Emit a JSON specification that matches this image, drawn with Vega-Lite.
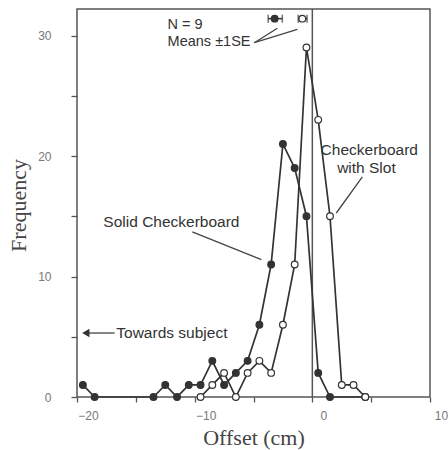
{
  "$schema": "https://vega.github.io/schema/vega-lite/v6.json",
  "width": 353,
  "height": 388,
  "autosize": {"type": "none"},
  "padding": {"left": 77, "top": 9, "right": 18, "bottom": 53},
  "background": "white",
  "config": {
    "view": {"stroke": "#555", "strokeWidth": 1.5},
    "axis": {
      "domain": false,
      "grid": false,
      "tickColor": "#555",
      "tickWidth": 1.3,
      "labelColor": "#777",
      "labelFont": "Liberation Sans",
      "labelFontSize": 12,
      "titleFont": "Liberation Serif",
      "titleFontSize": 22,
      "titleColor": "#444",
      "titleFontWeight": "normal"
    }
  },
  "datasets": {
    "freq": [
      {"series": "Solid", "offset": -19.5, "f": 1},
      {"series": "Solid", "offset": -18.5, "f": 0},
      {"series": "Solid", "offset": -13.5, "f": 0},
      {"series": "Solid", "offset": -12.5, "f": 1},
      {"series": "Solid", "offset": -11.5, "f": 0},
      {"series": "Solid", "offset": -10.5, "f": 1},
      {"series": "Solid", "offset": -9.5, "f": 1},
      {"series": "Solid", "offset": -8.5, "f": 3},
      {"series": "Solid", "offset": -7.5, "f": 1},
      {"series": "Solid", "offset": -6.5, "f": 2},
      {"series": "Solid", "offset": -5.5, "f": 3},
      {"series": "Solid", "offset": -4.5, "f": 6},
      {"series": "Solid", "offset": -3.5, "f": 11},
      {"series": "Solid", "offset": -2.5, "f": 21},
      {"series": "Solid", "offset": -1.5, "f": 19},
      {"series": "Solid", "offset": -0.5, "f": 15},
      {"series": "Solid", "offset": 0.5, "f": 2},
      {"series": "Solid", "offset": 1.5, "f": 0},
      {"series": "Solid", "offset": 4.5, "f": 0},
      {"series": "Slot", "offset": -9.5, "f": 0},
      {"series": "Slot", "offset": -8.5, "f": 1},
      {"series": "Slot", "offset": -7.5, "f": 2},
      {"series": "Slot", "offset": -6.5, "f": 0},
      {"series": "Slot", "offset": -5.5, "f": 2},
      {"series": "Slot", "offset": -4.5, "f": 3},
      {"series": "Slot", "offset": -3.5, "f": 2},
      {"series": "Slot", "offset": -2.5, "f": 6},
      {"series": "Slot", "offset": -1.5, "f": 11},
      {"series": "Slot", "offset": -0.5, "f": 29},
      {"series": "Slot", "offset": 0.5, "f": 23},
      {"series": "Slot", "offset": 1.5, "f": 15},
      {"series": "Slot", "offset": 2.5, "f": 1},
      {"series": "Slot", "offset": 3.5, "f": 1},
      {"series": "Slot", "offset": 4.5, "f": 0}
    ],
    "means": [
      {"series": "Solid", "m": -3.2, "lo": -3.75, "hi": -2.55, "y": 31.4},
      {"series": "Slot", "m": -0.85, "lo": -1.2, "hi": -0.45, "y": 31.4}
    ],
    "pointers": [
      {"x": -4.93, "y": 29.4, "x2": -2.97, "y2": 30.6},
      {"x": -4.93, "y": 29.4, "x2": -1.27, "y2": 30.5},
      {"x": -10.2, "y": 13.7, "x2": -4.33, "y2": 11.4},
      {"x": 4.25, "y": 18.26, "x2": 2.04, "y2": 15.27},
      {"x": -19.4, "y": 5.31, "x2": -16.8, "y2": 5.31}
    ],
    "smallText": [
      {"x": -12.3, "y": 30.9, "t": "N = 9"},
      {"x": -12.3, "y": 29.5, "t": "Means ±1SE"}
    ],
    "leftText": [
      {"x": -17.76, "y": 14.5, "t": "Solid Checkerboard"},
      {"x": -16.66, "y": 5.31, "t": "Towards subject"}
    ],
    "centerText": [
      {"x": 4.84, "y": 20.5, "t": "Checkerboard"},
      {"x": 4.6, "y": 19.0, "t": "with Slot"}
    ]
  },
  "layer": [
    {
      "data": {"values": [{"v": 0}]},
      "mark": {"type": "rule", "color": "#555", "strokeWidth": 1.5},
      "encoding": {
        "x": {"field": "v", "type": "quantitative", "scale": {"domain": [-20, 10], "nice": false, "zero": false},
          "axis": {"title": "Offset (cm)", "values": [-20, -15, -10, -5, 0, 5, 10], "labelExpr": "datum.value % 10 === 0 ? datum.label : ''", "tickSize": 5, "labelPadding": 8, "labelOffset": 11, "labelFlush": false, "labelBound": false, "titleY": 47, "titleBaseline": "alphabetic"}}
      }
    },
    {
      "data": {"name": "freq"},
      "mark": {"type": "line", "color": "#333", "strokeWidth": 1.7},
      "encoding": {
        "x": {"field": "offset", "type": "quantitative"},
        "y": {"field": "f", "type": "quantitative", "scale": {"domain": [0, 32.2], "nice": false},
          "axis": {"title": "Frequency", "values": [0, 5, 10, 15, 20, 25, 30], "labelExpr": "datum.value % 10 === 0 ? datum.label : ''", "tickSize": 6, "labelPadding": 20, "labelFlush": false, "titleX": -52, "titleY": 196, "titleAngle": -90, "titleBaseline": "alphabetic", "titleAlign": "center"}},
        "detail": {"field": "series"}
      }
    },
    {
      "data": {"name": "freq"},
      "mark": {"type": "point", "filled": true, "size": 45, "stroke": "#333", "strokeWidth": 1.2, "opacity": 1},
      "encoding": {
        "x": {"field": "offset", "type": "quantitative"},
        "y": {"field": "f", "type": "quantitative"},
        "fill": {"field": "series", "type": "nominal", "scale": {"domain": ["Solid", "Slot"], "range": ["#333", "white"]}, "legend": null}
      }
    },
    {
      "data": {"name": "means"},
      "mark": {"type": "rule", "color": "#333", "strokeWidth": 1.5},
      "encoding": {
        "x": {"field": "lo", "type": "quantitative"},
        "x2": {"field": "hi"},
        "y": {"field": "y", "type": "quantitative"}
      }
    },
    {
      "data": {"name": "means"},
      "mark": {"type": "tick", "orient": "vertical", "color": "#333", "size": 8, "thickness": 1.5},
      "encoding": {
        "x": {"field": "lo", "type": "quantitative"},
        "y": {"field": "y", "type": "quantitative"}
      }
    },
    {
      "data": {"name": "means"},
      "mark": {"type": "tick", "orient": "vertical", "color": "#333", "size": 8, "thickness": 1.5},
      "encoding": {
        "x": {"field": "hi", "type": "quantitative"},
        "y": {"field": "y", "type": "quantitative"}
      }
    },
    {
      "data": {"name": "means"},
      "mark": {"type": "point", "filled": true, "size": 45, "stroke": "#333", "strokeWidth": 1.2, "opacity": 1},
      "encoding": {
        "x": {"field": "m", "type": "quantitative"},
        "y": {"field": "y", "type": "quantitative"},
        "fill": {"field": "series", "type": "nominal", "legend": null}
      }
    },
    {
      "data": {"name": "pointers"},
      "mark": {"type": "rule", "color": "#444", "strokeWidth": 1.3},
      "encoding": {
        "x": {"field": "x", "type": "quantitative"},
        "y": {"field": "y", "type": "quantitative"},
        "x2": {"field": "x2"},
        "y2": {"field": "y2"}
      }
    },
    {
      "data": {"values": [{"x": -19.25, "y": 5.31}]},
      "mark": {"type": "point", "shape": "triangle-left", "filled": true, "size": 70, "color": "#333", "opacity": 1},
      "encoding": {
        "x": {"field": "x", "type": "quantitative"},
        "y": {"field": "y", "type": "quantitative"}
      }
    },
    {
      "data": {"name": "smallText"},
      "mark": {"type": "text", "align": "left", "baseline": "middle", "font": "Liberation Sans", "fontSize": 14.5, "color": "#333"},
      "encoding": {
        "x": {"field": "x", "type": "quantitative"},
        "y": {"field": "y", "type": "quantitative"},
        "text": {"field": "t"}
      }
    },
    {
      "data": {"name": "leftText"},
      "mark": {"type": "text", "align": "left", "baseline": "middle", "font": "Liberation Sans", "fontSize": 15.5, "color": "#333"},
      "encoding": {
        "x": {"field": "x", "type": "quantitative"},
        "y": {"field": "y", "type": "quantitative"},
        "text": {"field": "t"}
      }
    },
    {
      "data": {"name": "centerText"},
      "mark": {"type": "text", "align": "center", "baseline": "middle", "font": "Liberation Sans", "fontSize": 15.5, "color": "#333"},
      "encoding": {
        "x": {"field": "x", "type": "quantitative"},
        "y": {"field": "y", "type": "quantitative"},
        "text": {"field": "t"}
      }
    }
  ]
}
